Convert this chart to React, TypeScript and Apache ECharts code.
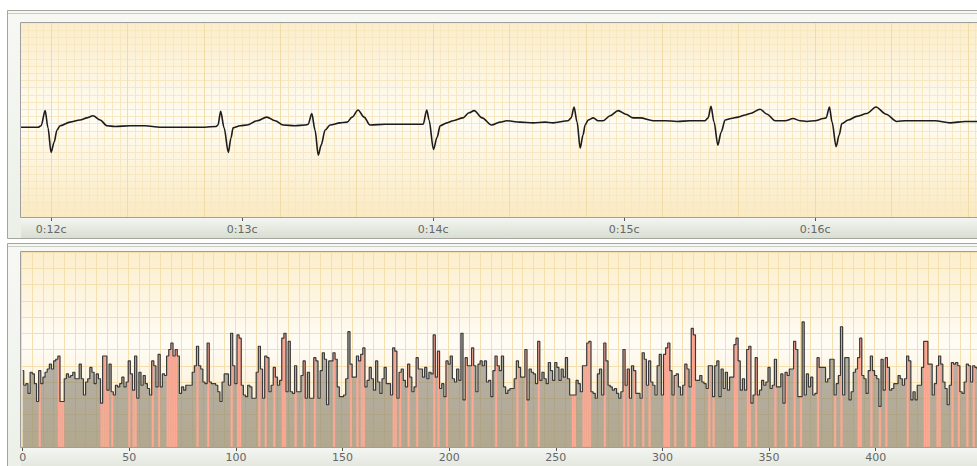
import { useEffect, useRef } from 'react';
import * as echarts from 'echarts';

// ---- ECG strip (time in seconds, amplitude in mV) ----
const ecgTime = [
  11.843, 11.89, 11.932, 11.948, 11.969, 11.984, 12.0, 12.016, 12.031, 12.047, 12.099, 12.152, 12.188, 12.22, 12.257, 12.293, 12.335, 12.414, 12.492, 12.571, 12.649, 12.728, 12.806, 12.864,
  12.874, 12.888, 12.906, 12.928, 12.942, 12.953, 12.99, 13.026, 13.079, 13.129, 13.173, 13.215, 13.277, 13.33,
  13.346, 13.365, 13.382, 13.399, 13.414, 13.435, 13.461, 13.513, 13.55, 13.576, 13.607, 13.639, 13.67, 13.749, 13.827, 13.906, 13.948,
  13.967, 13.979, 14.002, 14.021, 14.037, 14.073, 14.105, 14.157, 14.188, 14.215, 14.257, 14.307, 14.351, 14.386, 14.455, 14.524, 14.586, 14.628, 14.707, 14.723,
  14.738, 14.754, 14.77, 14.785, 14.796, 14.812, 14.839, 14.864, 14.89, 14.927, 14.969, 15.01, 15.047, 15.084, 15.152, 15.215, 15.277, 15.346, 15.424, 15.44,
  15.455, 15.471, 15.491, 15.508, 15.529, 15.56, 15.597, 15.634, 15.66, 15.712, 15.749, 15.791, 15.843, 15.885, 15.921, 15.957, 16.0, 16.042, 16.058,
  16.075, 16.089, 16.11, 16.126, 16.14, 16.173, 16.218, 16.271, 16.319, 16.372, 16.428, 16.471, 16.532, 16.628, 16.707, 16.785, 16.847, 16.916,
];
const ecgMv = [
  -0.1, -0.1, -0.1, -0.08, 0.13, -0.11, -0.45, -0.31, -0.14, -0.08, -0.03, 0, 0.03, 0.06, 0, -0.08, -0.09, -0.08, -0.08, -0.1, -0.1, -0.1, -0.1, -0.09,
  -0.07, 0.12, -0.11, -0.45, -0.25, -0.11, -0.08, -0.07, -0.01, 0.04, -0.01, -0.07, -0.08, -0.07,
  -0.06, 0.09, -0.14, -0.49, -0.35, -0.14, -0.07, -0.04, -0.03, 0.04, 0.14, 0.04, -0.07, -0.06, -0.06, -0.06, -0.06,
  0.14, 0, -0.41, -0.24, -0.08, -0.04, -0.01, 0.03, 0.1, 0.13, 0.03, -0.07, -0.03, -0.01, -0.03, -0.04, -0.03, -0.04, -0.01, 0.03,
  0.18, -0.03, -0.39, -0.21, -0.07, 0, 0.03, -0.01, -0.01, 0.06, 0.13, 0.08, 0.03, 0.03, -0.01, -0.01, -0.02, -0.01, -0.01, 0.03,
  0.19, -0.03, -0.35, -0.17, 0, 0.02, 0.04, 0.07, 0.09, 0.15, 0.08, -0.01, -0.01, 0.02, -0.01, -0.02, -0.01, 0.02, 0.03,
  0.18, -0.03, -0.37, -0.21, -0.05, 0, 0.05, 0.09, 0.18, 0.08, -0.02, -0.01, -0.01, -0.01, -0.04, -0.02, -0.02, -0.02,
];
const secondTicks = [12, 13, 14, 15, 16];

// ---- interval bars ----
const barValues = [
  47, 38, 39, 33, 46, 45, 39, 28, 47, 39, 43, 46, 48, 51, 48, 53, 54, 56, 28, 28, 42, 45, 43, 44, 46, 42, 42, 51, 42, 32,
  40, 42, 49, 46, 39, 45, 42, 27, 56, 56, 35, 51, 34, 32, 38, 37, 39, 43, 37, 40, 53, 45, 35, 56, 30, 46, 38, 44, 39, 36,
  32, 53, 50, 37, 57, 37, 45, 44, 56, 60, 64, 56, 60, 56, 33,
  37, 35, 38, 38, 38, 46, 50, 62, 50, 48, 40, 39, 64, 40, 39, 39, 38, 34, 28, 40, 45, 45, 38, 70, 50, 39, 69, 67, 38, 32,
  31, 38, 37, 30, 30, 46, 62, 48, 30, 56, 55, 34, 38, 49, 43, 38, 41, 67, 70, 34, 65, 34, 33, 50, 34, 34, 44, 53, 30, 46,
  30, 30, 55, 53, 30, 47, 58, 54, 26, 53, 53, 58, 54, 37, 31,
  31, 32, 42, 71, 51, 43, 43, 56, 53, 57, 61, 37, 41, 49, 42, 35, 53, 40, 33, 42, 49, 39, 39, 32, 61, 59, 30, 46, 48, 41,
  37, 51, 43, 34, 37, 55, 48, 48, 43, 49, 42, 46, 45, 69, 43, 59, 36, 39, 31, 53, 51, 56, 42, 40, 48, 41, 70, 29, 55, 50,
  50, 61, 50, 34, 51, 53, 50, 53, 40, 41, 31, 47, 56, 50, 47,
  56, 37, 33, 35, 36, 36, 42, 53, 49, 43, 43, 60, 29, 48, 46, 45, 39, 65, 41, 46, 42, 39, 52, 47, 41, 52, 49, 41, 48, 43,
  55, 42, 32, 32, 32, 41, 39, 34, 50, 50, 64, 65, 34, 33, 30, 45, 48, 32, 64, 53, 38, 37, 35, 36, 33, 30, 34, 60, 38, 48,
  30, 50, 47, 33, 33, 30, 58, 54, 38, 53, 40, 38, 32, 50, 57,
  32, 57, 61, 64, 47, 32, 44, 45, 37, 32, 38, 51, 48, 37, 73, 69, 41, 41, 44, 40, 39, 36, 50, 50, 31, 50, 53, 31, 48, 36,
  46, 35, 43, 43, 63, 67, 53, 35, 42, 35, 60, 62, 27, 32, 55, 32, 35, 41, 38, 40, 49, 36, 38, 54, 37, 37, 45, 27, 46, 44,
  48, 48, 65, 60, 31, 31, 77, 32, 45, 37, 43, 32, 33, 55, 49,
  49, 49, 40, 42, 54, 54, 32, 39, 44, 74, 32, 55, 55, 29, 34, 46, 48, 55, 67, 44, 42, 33, 47, 56, 47, 44, 42, 25, 54, 35,
  55, 49, 35, 36, 39, 39, 44, 42, 38, 42, 56, 53, 29, 34, 29, 38, 38, 49, 65, 65, 51, 51, 32, 39, 50, 56, 51, 40, 36, 26,
  38, 52, 51, 52, 50, 34, 33, 40, 51, 50, 40, 50, 49, 48,
];
// indices of the bars drawn in salmon
const flaggedBars = [
  8, 17, 18, 19, 37, 38, 39, 40, 42, 50, 52, 53, 61, 64, 68, 69, 70, 71, 72,
  82, 87, 98, 101, 102, 111, 114, 118, 122, 123, 128, 132, 137, 146,
  154, 157, 159, 160, 174, 175, 177, 181, 185, 193, 195, 199, 208, 211, 222,
  232, 236, 242, 258, 259, 263, 264, 265, 266, 273, 282, 284, 287, 291, 294,
  301, 302, 303, 306, 311, 314, 315, 322, 324, 334, 335, 340, 341, 344, 353, 358, 362, 365, 373,
  381, 384, 392, 393, 398, 402, 405, 415, 423, 424, 425, 429, 430, 436, 439, 443, 446,
];

const vGrad = (stops: [number, string][]) => ({
  type: 'linear', x: 0, y: 0, x2: 0, y2: 1,
  colorStops: stops.map(([offset, color]) => ({ offset, color })),
});

export default function App() {
  const ref = useRef<HTMLDivElement>(null);

  useEffect(() => {
    if (!ref.current) return;
    const chart = echarts.init(ref.current, undefined, { renderer: 'svg' });
    const flagged = new Set(flaggedBars);
    const categories = barValues.map((_, i) => String(i));
    const minorV = '#F7E8C2';
    const majorV = '#F1DCA8';
    const xMin = 11.84;
    const xMax = 16.866;

    const frameFill = vGrad([[0, '#F7F8F4'], [1, '#ECEFE8']]);
    const stripFill = vGrad([[0, '#F4F6F1'], [1, '#D8DED2']]);

    chart.setOption({
      animation: false,
      backgroundColor: '#ffffff',
      textStyle: { fontFamily: 'DejaVu Sans' },
      graphic: [
        // top panel frame
        { type: 'rect', z: -20, shape: { x: 7.5, y: 10.5, width: 1010, height: 228 }, style: { fill: frameFill, stroke: '#A2A69F', lineWidth: 1 } },
        { type: 'line', z: -19, shape: { x1: 8, y1: 13.5, x2: 1010, y2: 13.5 }, style: { stroke: '#C8CCC4', lineWidth: 1 } },
        { type: 'rect', z: -18, shape: { x: 21, y: 23, width: 1000, height: 194 }, style: { fill: vGrad([[0, '#FBEDC9'], [0.5, '#FFFCF3'], [1, '#FAEAC2']]) } },
        { type: 'rect', z: -18, shape: { x: 21, y: 218, width: 1000, height: 20 }, style: { fill: stripFill } },
        { type: 'rect', z: 50, shape: { x: 20.5, y: 22.5, width: 1000, height: 195 }, style: { fill: 'none', stroke: '#9E9E9E', lineWidth: 1 } },
        // bottom panel frame
        { type: 'rect', z: -20, shape: { x: 7.5, y: 243.5, width: 1010, height: 240 }, style: { fill: frameFill, stroke: '#A2A69F', lineWidth: 1 } },
        { type: 'line', z: -19, shape: { x1: 8, y1: 246.5, x2: 1010, y2: 246.5 }, style: { stroke: '#C8CCC4', lineWidth: 1 } },
        { type: 'rect', z: -18, shape: { x: 21, y: 252, width: 1000, height: 195 }, style: { fill: vGrad([[0, '#FCEECB'], [0.47, '#FFFCF5'], [1, '#F9E8BD']]) } },
        { type: 'rect', z: -18, shape: { x: 21, y: 448, width: 1000, height: 30 }, style: { fill: stripFill } },
        { type: 'rect', z: 50, shape: { x: 20.5, y: 251.5, width: 1000, height: 196 }, style: { fill: 'none', stroke: '#9E9E9E', lineWidth: 1 } },
      ],
      grid: [
        { left: 20.5, top: 23, width: 960, height: 194 },
        { left: 21.6, top: 252, width: 957.5, height: 195 },
      ],
      xAxis: [
        {
          type: 'value', gridIndex: 0, min: xMin, max: xMax, interval: 0.04,
          axisLine: { show: false, onZero: false },
          axisTick: { show: true, customValues: secondTicks, length: 4, lineStyle: { color: '#555' } },
          axisLabel: {
            customValues: secondTicks, color: '#666', fontSize: 11, margin: 7,
            formatter: (v: number) => `0:${Math.round(v)}c`,
          },
          splitLine: { show: false },
        },
        {
          type: 'category', gridIndex: 1, data: categories, boundaryGap: true,
          axisLine: { show: false, onZero: false },
          axisTick: { show: true, interval: 49, alignWithLabel: true, length: 4, lineStyle: { color: '#555' } },
          axisLabel: { interval: 49, color: '#666', fontSize: 11, margin: 5 },
          splitLine: { show: true, interval: 4, lineStyle: { color: '#F4E0AE', width: 1 } },
        },
        {
          // fine 0.04 s grid of the ECG paper
          type: 'value', gridIndex: 0, min: xMin, max: xMax, interval: 0.04,
          axisLine: { show: false, onZero: false }, axisTick: { show: false }, axisLabel: { show: false },
          splitLine: { show: true, lineStyle: { width: 1, color: [minorV, minorV, minorV, minorV, majorV, minorV, minorV, minorV, minorV, minorV] } },
        },
      ],
      yAxis: [
        {
          type: 'value', gridIndex: 0, min: -1.35, max: 1.35, interval: 0.1,
          axisLine: { show: false }, axisTick: { show: false }, axisLabel: { show: false },
          splitLine: { show: true, lineStyle: { color: minorV, width: 1 } },
        },
        {
          type: 'value', gridIndex: 1, min: 0, max: 120, interval: 10,
          axisLine: { show: false }, axisTick: { show: false }, axisLabel: { show: false },
          splitLine: { show: true, lineStyle: { color: '#F4E0AE', width: 1 } },
        },
      ],
      series: [
        {
          type: 'line', xAxisIndex: 0, yAxisIndex: 0, z: 5,
          data: ecgTime.map((t, i) => [t, ecgMv[i]]),
          showSymbol: false, symbol: 'none',
          smooth: 0.3, smoothMonotone: 'x',
          lineStyle: { color: '#1C1C1C', width: 1.6 },
        },
        {
          type: 'line', xAxisIndex: 1, yAxisIndex: 1, z: 2, step: 'middle',
          data: barValues, symbol: 'none',
          lineStyle: { width: 0 },
          areaStyle: { color: 'rgba(108,104,96,0.5)', opacity: 1 },
        },
        {
          type: 'bar', xAxisIndex: 1, yAxisIndex: 1, z: 3,
          barCategoryGap: '0%', barGap: '0%',
          data: barValues.map((v, i) => (flagged.has(i) ? v : '-')),
          itemStyle: { color: '#FFA893', borderColor: '#FFA893', borderWidth: 0.4 },
        },
        {
          type: 'line', xAxisIndex: 1, yAxisIndex: 1, z: 4, step: 'middle',
          data: barValues, symbol: 'none',
          lineStyle: { color: '#3A3A3A', width: 1.2 },
        },
      ],
    });
    return () => chart.dispose();
  }, []);

  return (
    <div style={{ position: 'fixed', left: 0, top: 0, width: 977, height: 466, overflow: 'hidden', background: '#fff' }}>
      <div ref={ref} style={{ width: 1000, height: 466 }} />
    </div>
  );
}
